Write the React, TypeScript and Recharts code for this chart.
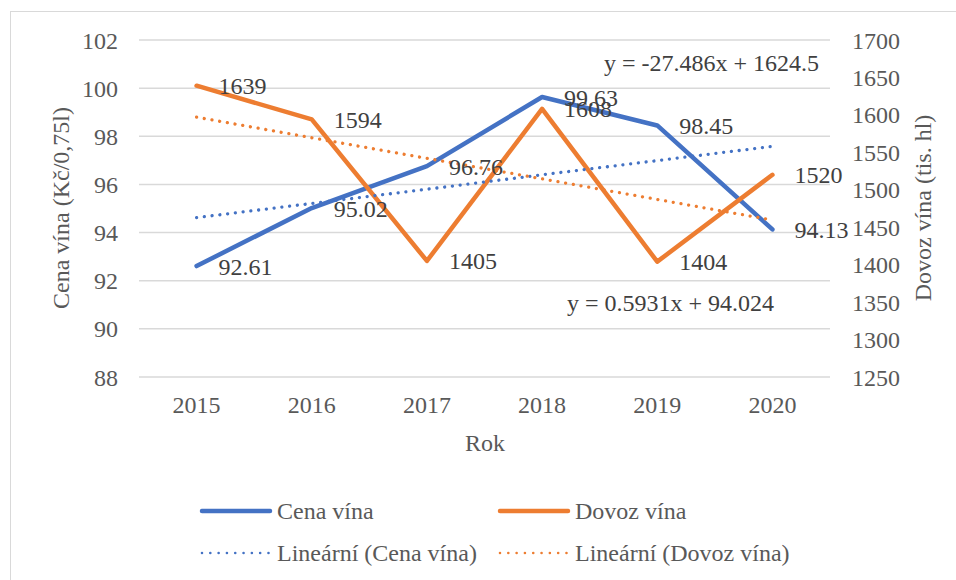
import React from 'react';
import {
  ComposedChart,
  Line,
  XAxis,
  YAxis,
  CartesianGrid,
  LabelList,
} from 'recharts';

const years = ['2015', '2016', '2017', '2018', '2019', '2020'];
const cenaVina = [92.61, 95.02, 96.76, 99.63, 98.45, 94.13];
const dovozVina = [1639, 1594, 1405, 1608, 1404, 1520];
// trend values (match the equations shown)
const trendCena = [94.62, 95.21, 95.8, 96.4, 96.99, 97.58];
const trendDovoz = [1597.0, 1569.5, 1542.0, 1514.6, 1487.1, 1459.6];

const leftTicks = [88, 90, 92, 94, 96, 98, 100, 102];
const rightTicks = [1250, 1300, 1350, 1400, 1450, 1500, 1550, 1600, 1650, 1700];

const BLUE = '#4472C4';
const ORANGE = '#ED7D31';
const TEXT = '#595959';
const FONT = 'Liberation Serif, Tinos, Times New Roman, DejaVu Serif, serif';

const data = years.map((rok, i) => ({
  rok,
  cena: cenaVina[i],
  dovoz: dovozVina[i],
  trendCena: trendCena[i],
  trendDovoz: trendDovoz[i],
}));

const legendItems = [
  { label: 'Cena vína', color: BLUE, dotted: false },
  { label: 'Dovoz vína', color: ORANGE, dotted: false },
  { label: 'Lineární (Cena vína)', color: BLUE, dotted: true },
  { label: 'Lineární (Dovoz vína)', color: ORANGE, dotted: true },
];

const tickStyle = { fill: TEXT, fontSize: 24, fontFamily: FONT };

export default function App() {
  return (
    <div
      style={{
        position: 'absolute',
        left: 0,
        top: 0,
        width: 956,
        height: 580,
        background: '#fff',
        overflow: 'hidden',
        fontFamily: FONT,
      }}
    >
      {/* chart frame, runs off the right and bottom edge */}
      <div
        style={{
          position: 'absolute',
          left: 10,
          top: 11,
          width: 946,
          height: 569,
          borderLeft: '1.5px solid #d9d9d9',
          borderTop: '1.5px solid #d9d9d9',
        }}
      />
      <ComposedChart
        width={956}
        height={580}
        data={data}
        margin={{ top: 40, right: 0, bottom: 163, left: 0 }}
        style={{ position: 'absolute', left: 0, top: 0, fontFamily: FONT }}
      >
        <CartesianGrid vertical={false} stroke="#d9d9d9" strokeWidth={1.5} />
        <XAxis
          dataKey="rok"
          scale="band"
          height={40}
          axisLine={false}
          tickLine={false}
          tickSize={0}
          tickMargin={19}
          tick={tickStyle}
        />
        <YAxis
          width={139}
          domain={[88, 102]}
          ticks={leftTicks}
          axisLine={false}
          tickLine={false}
          tickSize={0}
          tickMargin={21}
          tick={tickStyle}
        />
        <YAxis
          yAxisId="right"
          orientation="right"
          width={126}
          domain={[1250, 1700]}
          ticks={rightTicks}
          axisLine={false}
          tickLine={false}
          tickSize={0}
          tickMargin={22}
          tick={tickStyle}
        />
        <Line
          dataKey="cena"
          stroke={BLUE}
          strokeWidth={4.5}
          strokeLinecap="round"
          strokeLinejoin="round"
          dot={false}
          isAnimationActive={false}
        >
          <LabelList
            dataKey="cena"
            position="right"
            offset={22}
            fill="#404040"
            fontSize={24}
            fontFamily={FONT}
          />
        </Line>
        <Line
          yAxisId="right"
          dataKey="dovoz"
          stroke={ORANGE}
          strokeWidth={4.5}
          strokeLinecap="round"
          strokeLinejoin="round"
          dot={false}
          isAnimationActive={false}
        >
          <LabelList
            dataKey="dovoz"
            position="right"
            offset={22}
            fill="#404040"
            fontSize={24}
            fontFamily={FONT}
          />
        </Line>
        <Line
          dataKey="trendCena"
          stroke={BLUE}
          strokeWidth={3.3}
          strokeDasharray="0.01 7.8"
          strokeLinecap="round"
          dot={false}
          isAnimationActive={false}
        />
        <Line
          yAxisId="right"
          dataKey="trendDovoz"
          stroke={ORANGE}
          strokeWidth={3.3}
          strokeDasharray="0.01 7.8"
          strokeLinecap="round"
          dot={false}
          isAnimationActive={false}
        />
      </ComposedChart>

      {/* titles, trend equations and legend */}
      <svg
        width={956}
        height={580}
        style={{ position: 'absolute', left: 0, top: 0, pointerEvents: 'none', fontFamily: FONT }}
        fontSize={24}
      >
        <text
          x={61}
          y={208}
          transform="rotate(-90 61 208)"
          textAnchor="middle"
          dominantBaseline="central"
          fill={TEXT}
        >
          Cena vína (Kč/0,75l)
        </text>
        <text
          x={923}
          y={208}
          transform="rotate(-90 923 208)"
          textAnchor="middle"
          dominantBaseline="central"
          fill={TEXT}
        >
          Dovoz vína (tis. hl)
        </text>
        <text x={485} y={443} textAnchor="middle" dominantBaseline="central" fill={TEXT}>
          Rok
        </text>
        <text x={819} y={63} textAnchor="end" dominantBaseline="central" fill="#404040">
          y = -27.486x + 1624.5
        </text>
        <text x={567} y={303} textAnchor="start" dominantBaseline="central" fill="#404040">
          y = 0.5931x + 94.024
        </text>

        {legendItems.map((item, i) => {
          const lx = i % 2 === 0 ? 200 : 498;
          const ly = i < 2 ? 511 : 553;
          return (
            <g key={item.label}>
              <line
                x1={lx + 2}
                x2={lx + 70}
                y1={ly}
                y2={ly}
                stroke={item.color}
                strokeWidth={item.dotted ? 2.6 : 4.5}
                strokeLinecap="round"
                strokeDasharray={item.dotted ? '0.01 8.3' : undefined}
              />
              <text x={lx + 77} y={ly} dominantBaseline="central" fill={TEXT}>
                {item.label}
              </text>
            </g>
          );
        })}
      </svg>
    </div>
  );
}
